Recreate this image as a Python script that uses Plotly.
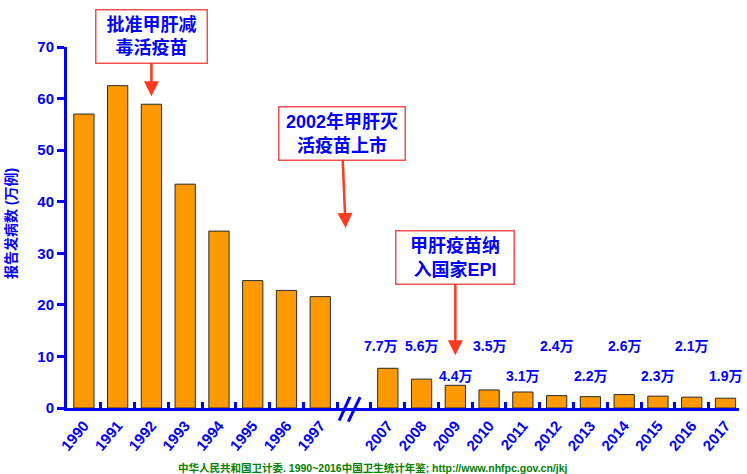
import plotly.graph_objects as go

# ---- data ----
categories = ["1990", "1991", "1992", "1993", "1994", "1995", "1996", "1997", " ",
              "2007", "2008", "2009", "2010", "2011", "2012", "2013", "2014", "2015", "2016", "2017"]
cases_wan = [57.0, 62.5, 58.9, 43.4, 34.3, 24.7, 22.8, 21.6, None,
             7.7, 5.6, 4.4, 3.5, 3.1, 2.4, 2.2, 2.6, 2.3, 2.1, 1.9]
label_years = ["2007", "2008", "2009", "2010", "2011", "2012", "2013", "2014", "2015", "2016", "2017"]
label_texts = ["7.7万", "5.6万", "4.4万", "3.5万", "3.1万", "2.4万", "2.2万", "2.6万", "2.3万", "2.1万", "1.9万"]
label_row_y = [12.0, 12.0, 6.2, 12.0, 6.2, 12.0, 6.2, 12.0, 6.2, 12.0, 6.2]
y_ticks = [0, 10, 20, 30, 40, 50, 60, 70]

BLUE = "#0000FF"
RED = "#FF3B1F"
FONT = "Liberation Sans, Arial, Noto Sans CJK SC"

def idx(cat):
    return categories.index(cat)

fig = go.Figure()
fig.add_trace(go.Bar(
    x=categories, y=cases_wan, width=0.6,
    marker=dict(color="#FF9900", line=dict(color="#2a2a2a", width=1)),
    hoverinfo="skip",
))

annotations = []
# value labels
for yr, txt, yy in zip(label_years, label_texts, label_row_y):
    annotations.append(dict(
        x=idx(yr), y=yy, xref="x", yref="y", text="<b>%s</b>" % txt, showarrow=False,
        font=dict(family=FONT, size=14, color=BLUE),
        xshift=-7 if yr == "2007" else 0,
    ))

box_style = dict(font=dict(family=FONT, size=18, color=BLUE), bgcolor="white",
                 bordercolor="#F05050", borderwidth=1.5, borderpad=2,
                 arrowcolor=RED, arrowwidth=2.5, arrowhead=2, arrowsize=1.2)

annotations.append(dict(
    x=idx("1992"), y=cases_wan[idx("1992")], xref="x", yref="y",
    text="<b>批准甲肝减<br>毒活疫苗</b>", showarrow=True, ax=0, ay=-68, standoff=8,
    width=106, height=48, **box_style))
annotations.append(dict(
    x=7.75, y=0.4986, xref="x", yref="paper",
    text="<b>2002年甲肝灭<br>活疫苗上市</b>", showarrow=True, ax=-4, ay=-95,
    width=121, height=48, **box_style))
annotations.append(dict(
    x=idx("2009"), y=cases_wan[idx("2009")], xref="x", yref="y",
    text="<b>甲肝疫苗纳<br>入国家EPI</b>", showarrow=True, ax=0, ay=-128, standoff=30,
    width=113, height=48, **box_style))

# y axis title
annotations.append(dict(
    x=-0.098, y=0.51, xref="paper", yref="paper", text="<b>报告发病数 (万例)</b>",
    textangle=-90, showarrow=False, font=dict(family=FONT, size=14, color=BLUE)))
# source
annotations.append(dict(
    x=0.455, y=-0.165, xref="paper", yref="paper", yanchor="middle",
    text="<b>中华人民共和国卫计委. 1990~2016中国卫生统计年鉴; http://www.nhfpc.gov.cn/jkj</b>",
    showarrow=False, font=dict(family=FONT, size=10.5, color="#008000")))

shapes = [
    dict(type="line", xref="x", yref="paper", x0=7.56, y0=-0.035, x1=7.88, y1=0.031,
         line=dict(color=BLUE, width=3)),
    dict(type="line", xref="x", yref="paper", x0=7.83, y0=-0.038, x1=8.18, y1=0.030,
         line=dict(color=BLUE, width=3)),
]

fig.update_layout(
    width=747, height=474,
    margin=dict(l=67, r=8, t=47, b=66),
    paper_bgcolor="white", plot_bgcolor="white",
    showlegend=False,
    annotations=annotations, shapes=shapes,
    xaxis=dict(
        type="category", categoryorder="array", categoryarray=categories,
        range=[-0.5, 19.4], showgrid=False, zeroline=False,
        showline=True, linecolor=BLUE, linewidth=3,
        tickson="boundaries", ticks="inside", ticklen=6, tickwidth=2.5, tickcolor=BLUE,
        tickangle=-50, tickfont=dict(family=FONT, size=15, color=BLUE, weight="bold"),
    ),
    yaxis=dict(
        range=[0, 70], tickvals=y_ticks, showgrid=False, zeroline=False,
        showline=True, linecolor=BLUE, linewidth=3,
        ticks="outside", ticklen=7, tickwidth=2.5, tickcolor=BLUE,
        tickfont=dict(family=FONT, size=15, color=BLUE, weight="bold"),
    ),
)

fig.write_html("out.html")
